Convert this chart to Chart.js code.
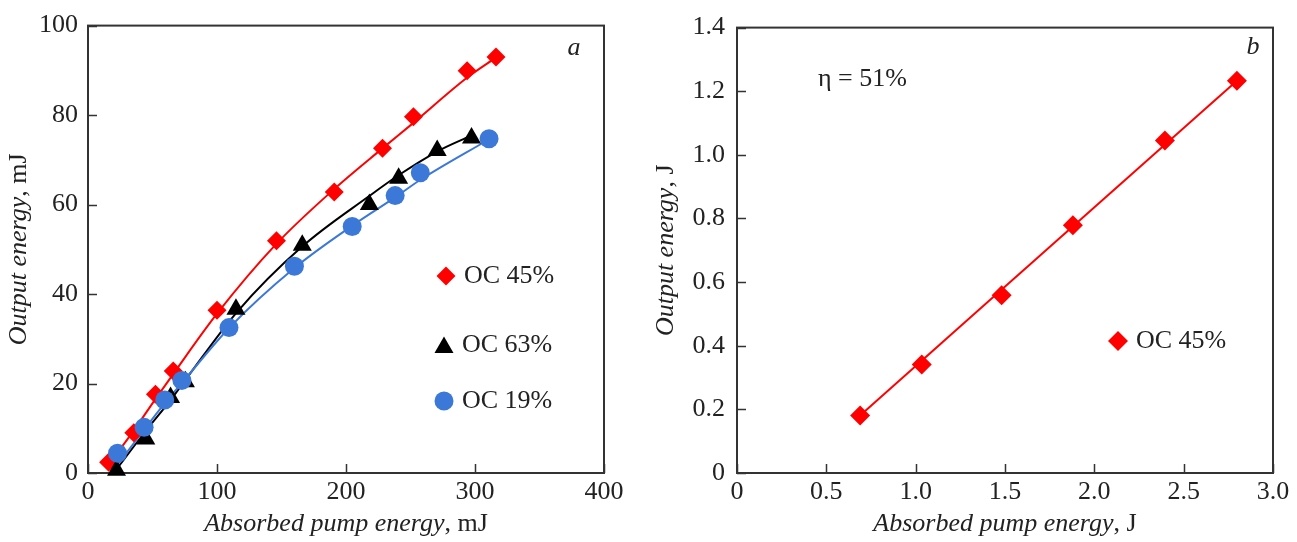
<!DOCTYPE html>
<html lang="en">
<head>
<meta charset="UTF-8">
<title>Output energy vs absorbed pump energy</title>
<script src="https://cdn.jsdelivr.net/npm/chart.js"></script>
<style>
  body { margin: 0; background: #fff; }
  canvas { position: absolute; top: 0; }
  #chartA { left: 0; }
  #chartB { left: 640px; }
</style>
</head>
<body>
<canvas id="chartA" width="640" height="542"></canvas>
<canvas id="chartB" width="657" height="542"></canvas>

<script>
// ---- panel a: measured points (mJ) ----
const oc45X = [16, 35.5, 52.3, 66.1, 100, 146.1, 190.9, 228.3, 252.3, 293.9, 316.3];
const oc45Y = [2.4, 9.0, 17.6, 22.8, 36.4, 51.9, 62.8, 72.6, 79.6, 89.9, 93.0];
const oc63X = [22.1, 44.8, 64.0, 75.5, 114.7, 166.1, 218.1, 240.8, 270.7, 297.3];
const oc63Y = [0.6, 7.6, 16.9, 20.4, 36.6, 50.9, 60.0, 65.9, 72.1, 74.9];
const oc19X = [22.9, 43.5, 59.5, 72.8, 109.3, 160.0, 204.8, 238.1, 257.6, 310.9];
const oc19Y = [4.4, 10.2, 16.3, 20.7, 32.5, 46.2, 55.1, 62.0, 67.1, 74.7];

// fitted curves
const fit45X = [15, 35, 52, 66, 100, 146, 191, 228, 252, 294, 317];
const fit45Y = [1.5, 9.3, 16.4, 22.1, 35.6, 51.2, 63.5, 72.5, 78.2, 88.4, 93.0];
const fit63X = [20, 45, 64, 75, 115, 166, 218, 241, 271, 297];
const fit63Y = [0, 9.5, 16.3, 20.6, 35.8, 50.6, 61.9, 66.6, 71.9, 75.4];
const fit19X = [18, 43, 60, 73, 109, 160, 205, 238, 258, 311];
const fit19Y = [0, 9.5, 15.8, 20.2, 32.3, 45.8, 55.3, 61.6, 65.6, 74.6];

// ---- panel b: measured points (J) ----
const bX = [0.689, 1.034, 1.481, 1.880, 2.395, 2.798];
const bY = [0.181, 0.341, 0.559, 0.779, 1.045, 1.233];
const bFitX = [0.689, 2.798];
const bFitY = [0.181, 1.233];

const RED = '#ff0000';
const BLACK = '#000000';
const BLUE = '#3b78d8';
const TEXT = '#222222';
const FONT = '"Liberation Serif", "Times New Roman", serif';

function pairs(xs, ys) {
    return xs.map((x, i) => ({ x: x, y: ys[i] }));
}

function oneDecimal(v) {
    return v === 0 ? '0' : Number(v).toFixed(1);
}

// draws text made of italic and upright pieces, centred on (cx, cy)
function drawMixed(ctx, parts, cx, cy, angle) {
    ctx.save();
    ctx.translate(cx, cy);
    ctx.rotate(angle);
    ctx.textBaseline = 'middle';
    ctx.textAlign = 'left';
    ctx.fillStyle = TEXT;
    const fonts = parts.map(p => (p.italic ? 'italic ' : '') + '26px ' + FONT);
    let total = 0;
    const widths = parts.map((p, i) => {
        ctx.font = fonts[i];
        const w = ctx.measureText(p.text).width;
        total += w;
        return w;
    });
    let x = -total / 2;
    parts.forEach((p, i) => {
        ctx.font = fonts[i];
        ctx.fillText(p.text, x, 0);
        x += widths[i];
    });
    ctx.restore();
}

// frame, inward tick marks, titles, legend and notes
const decoPlugin = {
    id: 'deco',
    beforeDatasetsDraw(chart) {
        const { ctx, chartArea: a, scales } = chart;
        ctx.save();
        ctx.strokeStyle = '#333';
        ctx.lineWidth = 1.5;
        ctx.beginPath();
        scales.x.ticks.forEach(t => {
            const px = Math.round(scales.x.getPixelForValue(t.value)) + 0.5;
            ctx.moveTo(px, a.bottom);
            ctx.lineTo(px, a.bottom - 9);
        });
        scales.y.ticks.forEach(t => {
            const py = Math.round(scales.y.getPixelForValue(t.value)) + 0.5;
            ctx.moveTo(a.left, py);
            ctx.lineTo(a.left + 9, py);
        });
        ctx.stroke();
        ctx.lineWidth = 2;
        ctx.strokeRect(a.left, a.top, a.right - a.left, a.bottom - a.top);
        ctx.restore();
    },
    afterDraw(chart, args, opts) {
        const { ctx, chartArea: a } = chart;
        drawMixed(ctx, opts.xTitle, (a.left + a.right) / 2, 524, 0);
        drawMixed(ctx, opts.yTitle, opts.yTitleX, (a.top + a.bottom) / 2, -Math.PI / 2);

        ctx.save();
        ctx.fillStyle = TEXT;
        ctx.textBaseline = 'middle';
        ctx.textAlign = 'center';
        ctx.font = 'italic 26px ' + FONT;
        ctx.fillText(opts.letter.text, opts.letter.x, opts.letter.y);

        ctx.textAlign = 'left';
        ctx.font = '26px ' + FONT;
        if (opts.note) ctx.fillText(opts.note.text, opts.note.x, opts.note.y);

        opts.legend.forEach(item => {
            const ds = chart.data.datasets[item.dataset];
            ctx.fillStyle = ds.backgroundColor;
            Chart.helpers.drawPoint(ctx, {
                pointStyle: ds.pointStyle, radius: ds.pointRadius, rotation: 0, borderWidth: 0
            }, item.x, item.y + (item.dy || 0));
            ctx.fillStyle = TEXT;
            ctx.fillText(ds.label, item.x + 18, item.y);
        });
        ctx.restore();
    }
};

function tickFont() {
    return { family: FONT, size: 26 };
}

function baseScales(xMin, xMax, xStep, yMin, yMax, yStep, yWidth, yPad, fmt) {
    return {
        x: {
            type: 'linear', min: xMin, max: xMax,
            grid: { display: false, drawTicks: false },
            border: { display: false },
            ticks: { stepSize: xStep, padding: 4, color: TEXT, font: tickFont(), callback: fmt, maxRotation: 0 },
            afterFit: s => { s.height = 69; }
        },
        y: {
            type: 'linear', min: yMin, max: yMax,
            grid: { display: false, drawTicks: false },
            border: { display: false },
            ticks: { stepSize: yStep, padding: yPad, color: TEXT, font: tickFont(), callback: fmt },
            afterFit: s => { s.width = yWidth; }
        }
    };
}

function markers(label, xs, ys, style, radius, color, order) {
    return {
        label: label, data: pairs(xs, ys), pointStyle: style, pointRadius: radius,
        backgroundColor: color, borderColor: color, borderWidth: 0,
        showLine: false, order: order, clip: false
    };
}

function curve(xs, ys, color, order) {
    return {
        label: '', data: pairs(xs, ys), showLine: true, pointRadius: 0,
        borderColor: color, borderWidth: 2, cubicInterpolationMode: 'monotone',
        order: order, clip: false
    };
}

// panel a
new Chart(document.getElementById('chartA'), {
    type: 'scatter',
    data: {
        datasets: [
            markers('OC 45%', oc45X, oc45Y, 'rectRot', 9.5, RED, 2),
            markers('OC 63%', oc63X, oc63Y, 'triangle', 11, BLACK, 1),
            markers('OC 19%', oc19X, oc19Y, 'circle', 9.5, BLUE, 0),
            curve(fit45X, fit45Y, RED, 5),
            curve(fit63X, fit63Y, BLACK, 4),
            curve(fit19X, fit19Y, BLUE, 3)
        ]
    },
    options: {
        responsive: false,
        animation: false,
        events: [],
        layout: { padding: { left: 0, right: 36, top: 23, bottom: 0 } },
        scales: baseScales(0, 400, 100, 0, 100, 20, 88, 10, v => v),
        plugins: {
            legend: { display: false },
            tooltip: { enabled: false },
            deco: {
                xTitle: [{ text: 'Absorbed pump energy', italic: true }, { text: ', mJ' }],
                yTitle: [{ text: 'Output energy', italic: true }, { text: ', mJ' }],
                yTitleX: 19,
                letter: { text: 'a', x: 574, y: 48 },
                legend: [
                    { dataset: 0, x: 446, y: 276 },
                    { dataset: 1, x: 444, y: 345, dy: 2.5 },
                    { dataset: 2, x: 444, y: 401 }
                ]
            }
        }
    },
    plugins: [decoPlugin]
});

// panel b
new Chart(document.getElementById('chartB'), {
    type: 'scatter',
    data: {
        datasets: [
            markers('OC 45%', bX, bY, 'rectRot', 10, RED, 0),
            curve(bFitX, bFitY, RED, 1)
        ]
    },
    options: {
        responsive: false,
        animation: false,
        events: [],
        layout: { padding: { left: 0, right: 24, top: 23, bottom: 0 } },
        scales: baseScales(0, 3, 0.5, 0, 1.4, 0.2, 97, 12, oneDecimal),
        plugins: {
            legend: { display: false },
            tooltip: { enabled: false },
            deco: {
                xTitle: [{ text: 'Absorbed pump energy', italic: true }, { text: ', J' }],
                yTitle: [{ text: 'Output energy', italic: true }, { text: ', J' }],
                yTitleX: 26,
                letter: { text: 'b', x: 613, y: 47 },
                note: { text: 'η = 51%', x: 178, y: 79 },
                legend: [
                    { dataset: 0, x: 478, y: 341 }
                ]
            }
        }
    },
    plugins: [decoPlugin]
});
</script>
</body>
</html>
